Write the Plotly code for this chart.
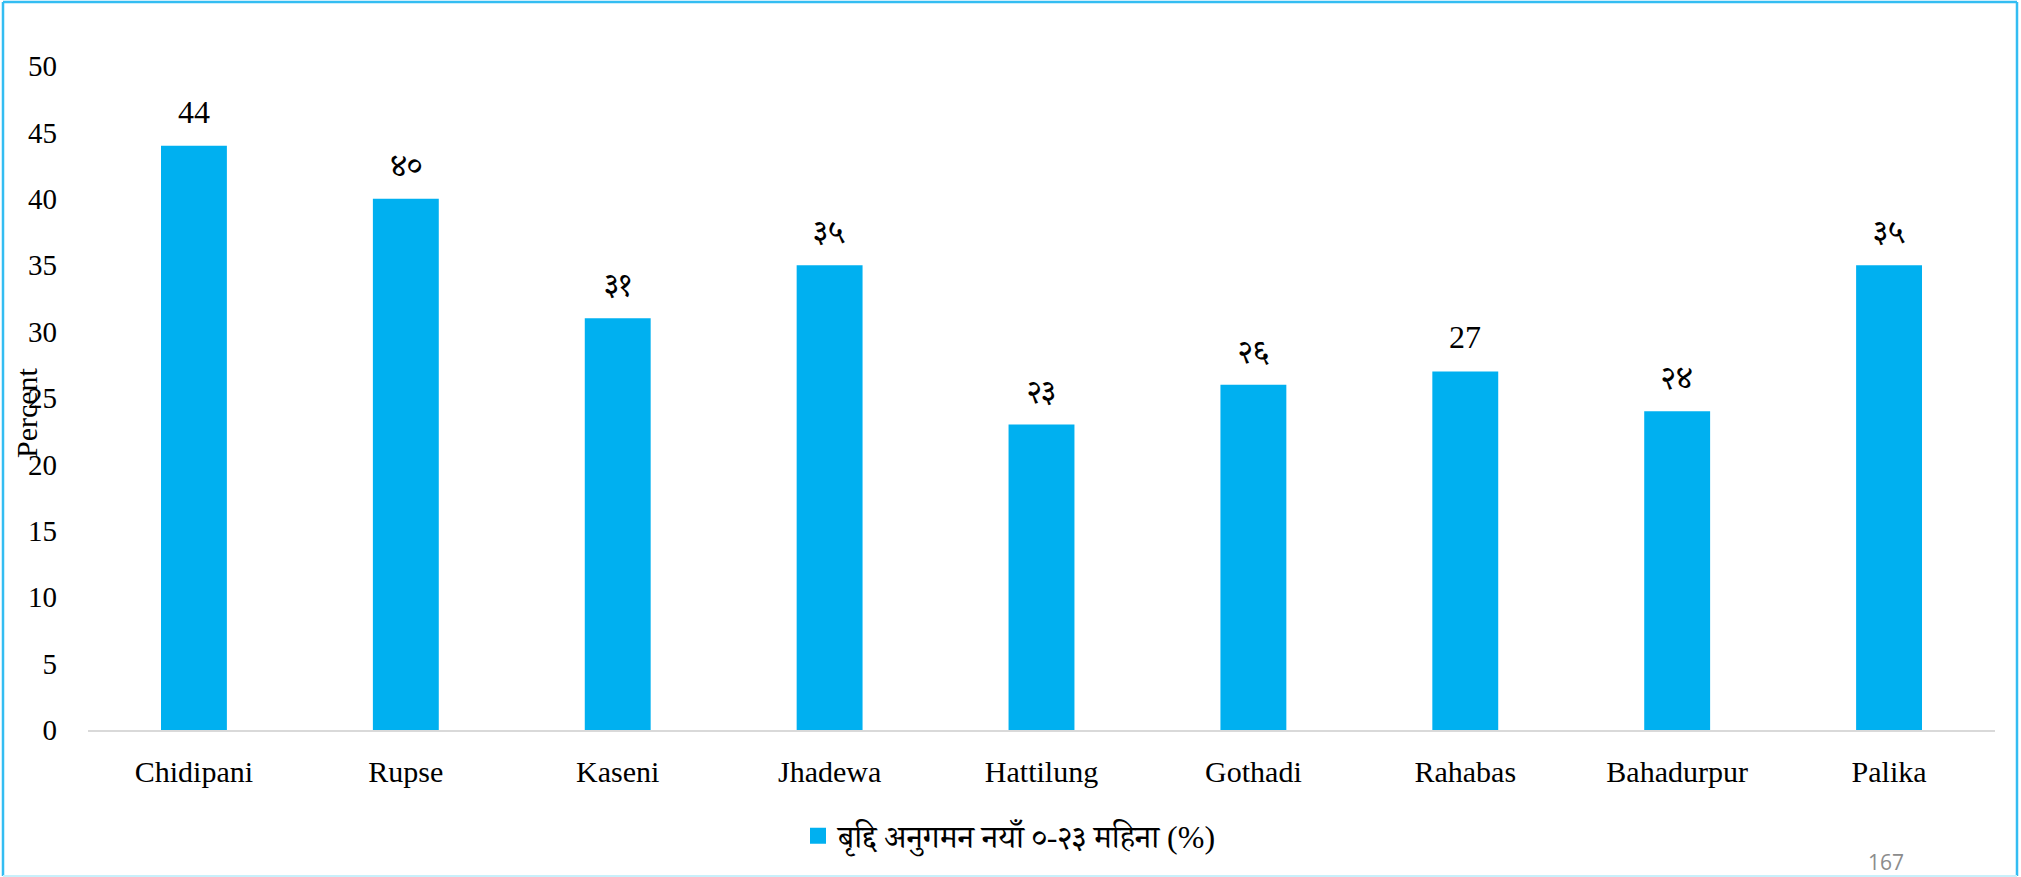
import plotly.graph_objects as go

# ---- data ----
categories = ["Chidipani", "Rupse", "Kaseni", "Jhadewa", "Hattilung",
              "Gothadi", "Rahabas", "Bahadurpur", "Palika"]
values = [44, 40, 31, 35, 23, 26, 27, 24, 35]
value_labels = ["44", "४०", "३१", "३५", "२३", "२६", "27", "२४", "३५"]
series_name = "बृद्दि अनुगमन नयाँ ०-२३ महिना (%)"
y_ticks = [0, 5, 10, 15, 20, 25, 30, 35, 40, 45, 50]
y_title = "Percent"
page_number = "167"

W, H = 2021, 877
L, R, T, B = 88, 26, 66, 147
PW, PH = W - L - R, H - T - B
BAR = "#00B0F0"
FONT = "Liberation Serif, 'Times New Roman', 'Noto Serif Devanagari', 'Noto Sans Devanagari', serif"


def px_x(px):
    return (px - L) / PW


def px_y(py):
    return (H - B - py) / PH


fig = go.Figure()
fig.add_trace(go.Bar(
    x=categories, y=values, marker=dict(color=BAR, line=dict(width=0)),
    name=series_name, showlegend=False,
))
# legend entry for the series
fig.add_trace(go.Scatter(
    x=[None], y=[None], mode="markers", name=series_name,
    marker=dict(symbol="square", size=20, color=BAR),
))

# data labels
for c, v, t in zip(categories, values, value_labels):
    fig.add_annotation(x=c, y=v, text=t, showarrow=False, yanchor="middle",
                       yshift=34, font=dict(family=FONT, size=32, color="#000000"))

# y axis title (overlapping tick labels as in reference)
fig.add_annotation(xref="paper", yref="paper", x=px_x(26), y=px_y(412),
                   xanchor="center", yanchor="middle",
                   text=y_title, textangle=-90, showarrow=False,
                   font=dict(family=FONT, size=30, color="#000000"))

# page number
fig.add_annotation(xref="paper", yref="paper", x=px_x(1886), y=px_y(846),
                   yanchor="top", xanchor="center", text=page_number, showarrow=False,
                   font=dict(family="Open Sans, sans-serif", size=21, color="#8c8c8c"))

# page frame
fig.add_shape(type="line", xref="paper", yref="paper", x0=px_x(3), x1=px_x(3),
              y0=px_y(2), y1=px_y(876), line=dict(color="#33BDF2", width=2.5))
fig.add_shape(type="line", xref="paper", yref="paper", x0=px_x(3), x1=px_x(2017),
              y0=px_y(2), y1=px_y(2), line=dict(color="#33BDF2", width=2.5))
fig.add_shape(type="line", xref="paper", yref="paper", x0=px_x(2017), x1=px_x(2017),
              y0=px_y(2), y1=px_y(876), line=dict(color="#33BDF2", width=2.5))
fig.add_shape(type="line", xref="paper", yref="paper", x0=px_x(3), x1=px_x(2017),
              y0=px_y(876), y1=px_y(876), line=dict(color="#C8F0FB", width=2))

fig.update_layout(
    width=W, height=H,
    margin=dict(l=L, r=R, t=T, b=B, autoexpand=False),
    paper_bgcolor="white", plot_bgcolor="white",
    bargap=0.689,
    font=dict(family=FONT, size=30, color="#000000"),
    legend=dict(orientation="h", xref="container", yref="container",
                x=0.5, xanchor="center", y=1 - 836 / H, yanchor="middle",
                font=dict(family=FONT, size=32, color="#000000"),
                bgcolor="rgba(0,0,0,0)"),
    xaxis=dict(showline=True, linecolor="#D9D9D9", linewidth=1.5,
               showgrid=False, zeroline=False, ticks="",
               ticklabelstandoff=14,
               tickfont=dict(family=FONT, size=30, color="#000000")),
    yaxis=dict(range=[0, 50], tickvals=y_ticks, showgrid=False, zeroline=False,
               showline=False, ticks="", ticklabelstandoff=30,
               tickfont=dict(family=FONT, size=29, color="#000000")),
)

fig.write_html("out.html", config={"displayModeBar": False},
               post_script="document.body.style.margin='0';document.body.style.overflow='hidden';")
